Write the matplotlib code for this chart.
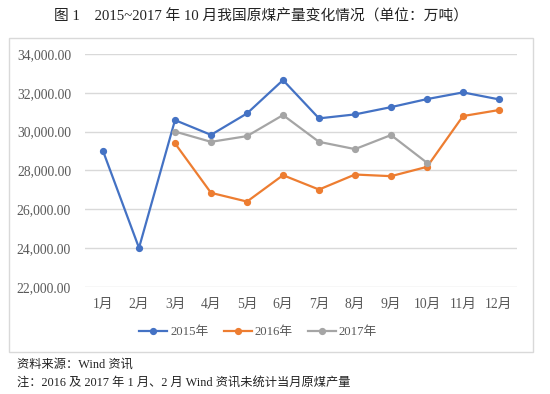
import matplotlib
matplotlib.use("Agg")
import matplotlib.pyplot as plt
from matplotlib.patches import Rectangle
import numpy as np

plt.rcParams['font.family'] = ['Liberation Serif', 'Noto Sans CJK SC', 'DejaVu Sans']

months = ["1月", "2月", "3月", "4月", "5月", "6月", "7月", "8月", "9月", "10月", "11月", "12月"]
s2015 = [29000, 24000, 30590, 29830, 30935, 32655, 30680, 30885, 31260, 31675, 32020, 31660]
s2016 = [np.nan, np.nan, 29390, 26840, 26390, 27750, 27010, 27785, 27700, 28180, 30800, 31110]
s2017 = [np.nan, np.nan, 30000, 29470, 29765, 30850, 29470, 29095, 29820, 28390, np.nan, np.nan]
series_names = ["2015年", "2016年", "2017年"]
colors = ["#4472C4", "#ED7D31", "#A5A5A5"]
yticks = [22000, 24000, 26000, 28000, 30000, 32000, 34000]

W, H = 550, 394
fig = plt.figure(figsize=(5.5, 3.94), dpi=100)
fig.patch.set_facecolor("white")

# chart border box
fig.add_artist(Rectangle((9 / W, 1 - 352 / H), (533 - 9) / W, (352 - 38) / H,
                         transform=fig.transFigure, fill=False, edgecolor="#d9d9d9", lw=1.0))

ax = fig.add_axes([85 / W, 1 - 286.7 / H, (517 - 85) / W, (286.7 - 54) / H])
x = np.arange(1, 13)
for vals, name, c in zip([s2015, s2016, s2017], series_names, colors):
    ax.plot(x, vals, color=c, lw=1.6, marker="o", markersize=4.2, label=name, zorder=3)

ax.set_xlim(0.5, 12.5)
ax.set_ylim(22000, 34000)
ax.set_yticks(yticks)
ax.set_yticklabels([f"{v:,.2f}" for v in yticks], fontsize=9.8, color="#595959")
ax.set_xticks(x)
ax.set_xticklabels(months, fontsize=9.8, color="#595959")
ax.tick_params(axis="both", length=0)
ax.tick_params(axis="y", pad=10)
ax.tick_params(axis="x", pad=8)
ax.grid(axis="y", color="#d9d9d9", lw=1.0)
ax.set_axisbelow(True)
for s in ax.spines.values():
    s.set_visible(False)

leg = fig.legend(loc="center", bbox_to_anchor=(258 / W, 1 - 332 / H), ncol=3, frameon=False,
                 fontsize=9.2, handlelength=2.2, columnspacing=1.2, handletextpad=0.2)
for t in leg.get_texts():
    t.set_color("#595959")

fig.text(261 / W, 1 - 16 / H, "图 1　2015~2017 年 10 月我国原煤产量变化情况（单位：万吨）",
         ha="center", va="center", fontsize=10.6, color="#222222")
fig.text(17 / W, 1 - 365 / H, "资料来源：Wind 资讯", ha="left", va="center", fontsize=8.8, color="#222222")
fig.text(17 / W, 1 - 384 / H, "注：2016 及 2017 年 1 月、2 月 Wind 资讯未统计当月原煤产量",
         ha="left", va="center", fontsize=8.8, color="#222222")

fig.savefig("out.png", dpi=100)
